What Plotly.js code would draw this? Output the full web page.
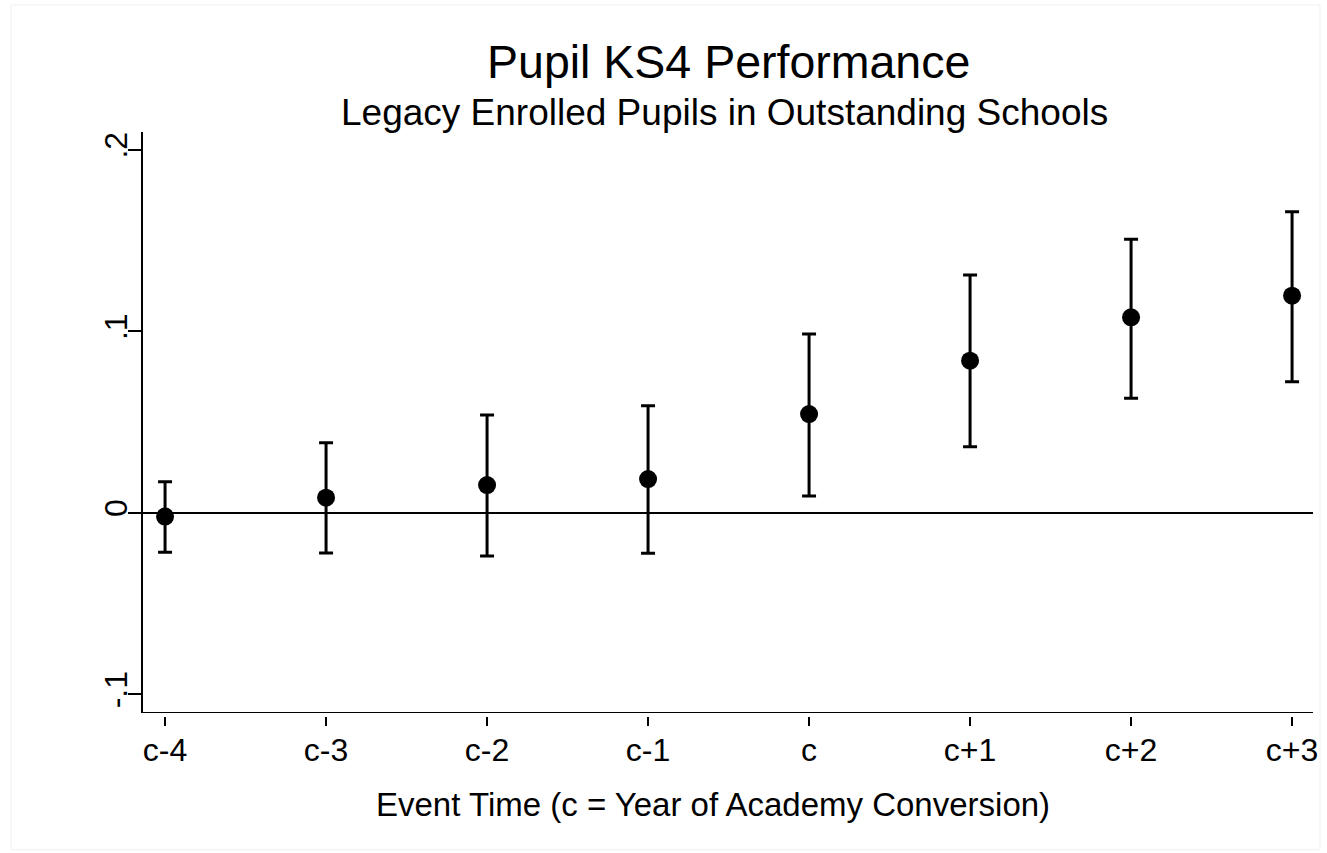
<!DOCTYPE html>
<html>
<head>
<meta charset="utf-8">
<script src="https://cdn.plot.ly/plotly-3.0.1.min.js"></script>
<style>html,body{margin:0;padding:0;background:#fff;}#chart{width:1327px;height:853px;}</style>
</head>
<body>
<div id="chart"></div>
<script>
var categories = ["c-4", "c-3", "c-2", "c-1", "c", "c+1", "c+2", "c+3"];
var estimates = [-0.002, 0.0084, 0.0154, 0.0187, 0.0545, 0.0839, 0.1078, 0.1197];
var upperCI = [0.0172, 0.0387, 0.0540, 0.0591, 0.0986, 0.1311, 0.1508, 0.1660];
var lowerCI = [-0.0217, -0.0220, -0.0237, -0.0222, 0.0094, 0.0365, 0.0632, 0.0723];
var yTickVals = [-0.1, 0, 0.1, 0.2];
var yTickText = ["-.1", "0", ".1", ".2"];

var errPlus = estimates.map(function (v, i) { return upperCI[i] - v; });
var errMinus = estimates.map(function (v, i) { return v - lowerCI[i]; });

var FONT = "Liberation Sans, Arial, Helvetica, sans-serif";
var yMin = -0.1102, yMax = 0.2099;

var trace = {
  type: "scatter",
  mode: "markers",
  x: categories,
  y: estimates,
  marker: { color: "#000", size: 18 },
  error_y: {
    type: "data", symmetric: false,
    array: errPlus, arrayminus: errMinus,
    color: "#000", thickness: 3, width: 7
  },
  hoverinfo: "x+y",
  showlegend: false
};

var layout = {
  width: 1327, height: 853,
  margin: { l: 143, r: 14, t: 132, b: 137 },
  paper_bgcolor: "#fff", plot_bgcolor: "#fff",
  font: { family: FONT, color: "#000" },
  xaxis: {
    type: "category",
    range: [-0.137, 7.13],
    anchor: "free", position: 0,
    showline: false, showgrid: false, zeroline: false,
    ticks: "outside", ticklen: 9, tickwidth: 2, tickcolor: "#000",
    tickfont: { size: 32, family: FONT, color: "#000" },
    ticklabelstandoff: -3
  },
  yaxis: {
    domain: [3 / 584, 1],
    range: [yMin, yMax],
    tickvals: yTickVals, ticktext: yTickText,
    tickangle: -90,
    showline: true, linecolor: "#000", linewidth: 2,
    showgrid: false,
    zeroline: true, zerolinecolor: "#000", zerolinewidth: 2.5,
    ticks: "outside", ticklen: 13, tickwidth: 2, tickcolor: "#000",
    tickfont: { size: 32, family: FONT, color: "#000" },
    ticklabelstandoff: -12
  },
  shapes: [
    { type: "line", xref: "paper", yref: "y", x0: 0, x1: 1, y0: yMin, y1: yMin,
      line: { color: "#000", width: 2 } },
    { type: "rect", xref: "paper", yref: "paper", x0: -0.1128, x1: 1.006, y0: -0.229, y1: 1.2175,
      line: { color: "#eef1f5", width: 1 }, fillcolor: "rgba(0,0,0,0)", layer: "below" }
  ],
  annotations: [
    { text: "Pupil KS4 Performance", xref: "paper", yref: "paper", x: 0.5, y: 1.12,
      xanchor: "center", yanchor: "middle", showarrow: false,
      font: { size: 46.5, family: FONT, color: "#000" } },
    { text: "Legacy Enrolled Pupils in Outstanding Schools", xref: "paper", yref: "paper", x: 0.497, y: 1.033,
      xanchor: "center", yanchor: "middle", showarrow: false,
      font: { size: 37, family: FONT, color: "#000" } },
    { text: "Event Time (c = Year of Academy Conversion)", xref: "paper", yref: "paper", x: 0.487, y: -0.152,
      xanchor: "center", yanchor: "middle", showarrow: false,
      font: { size: 33, family: FONT, color: "#000" } }
  ]
};

Plotly.newPlot("chart", [trace], layout, { displayModeBar: false, staticPlot: true });
</script>
</body>
</html>
